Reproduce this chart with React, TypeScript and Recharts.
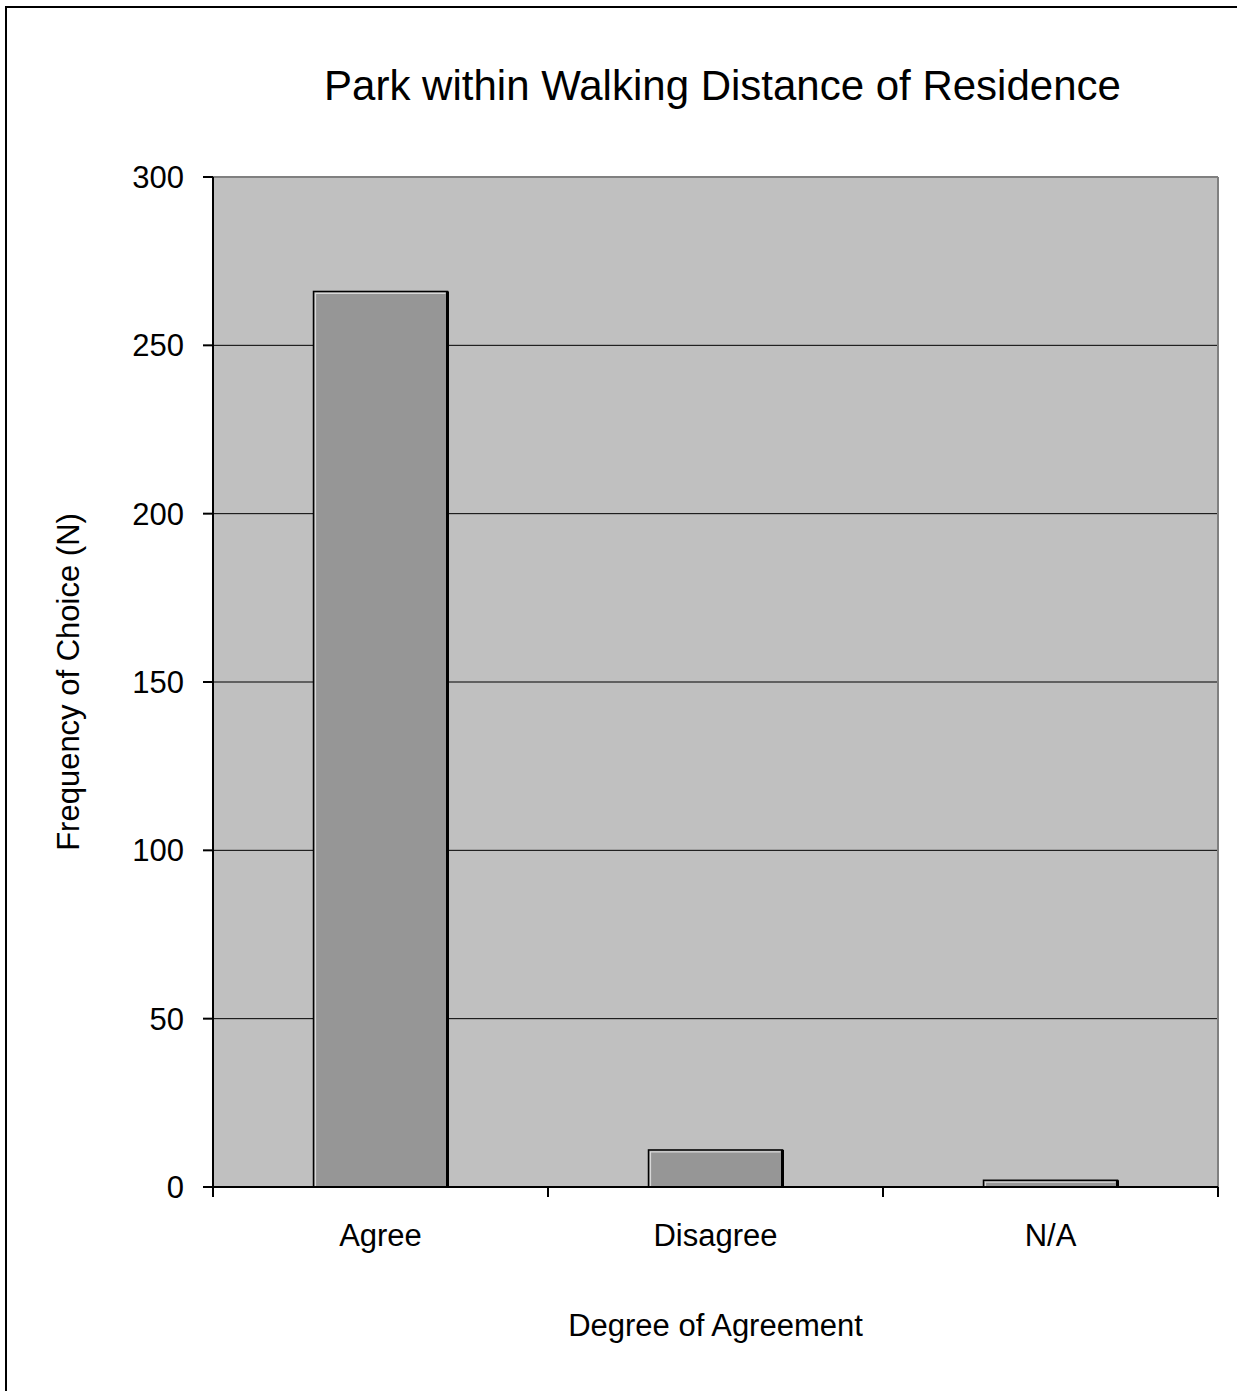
import React from 'react';
import { BarChart, Bar, XAxis, YAxis, CartesianGrid, ReferenceLine } from 'recharts';

const categories = ['Agree', 'Disagree', 'N/A'];
const frequencies = [266, 11, 2];
const yTicks = [0, 50, 100, 150, 200, 250, 300];
const titleText = 'Park within Walking Distance of Residence';
const yTitle = 'Frequency of Choice (N)';
const xTitle = 'Degree of Agreement';

const data = categories.map((c, i) => ({ category: c, value: frequencies[i] }));

const FONT = '"Liberation Sans", Arial, sans-serif';
const X_TICK_MARGIN = 37;
const X_TICK_LEN = 10;

const BarShape = (props: any) => {
  const { x, y, width, height } = props;
  if (width == null || height == null) return null;
  return (
    <g>
      <rect x={x} y={y} width={width} height={height} fill="#969696" stroke="#000" strokeWidth={1.5} />
      <polyline
        points={`${x + 2},${y + height} ${x + 2},${y + 2} ${x + width - 2},${y + 2}`}
        stroke="#D8D8D8"
        strokeWidth={1.2}
        fill="none"
      />
      <line x1={x + width} y1={y} x2={x + width} y2={y + height} stroke="#000" strokeWidth={3} />
    </g>
  );
};

const CatTick = (props: any) => {
  const { x, y, payload, index, visibleTicksCount } = props;
  const half = payload && payload.offset ? payload.offset : 0;
  const axisY = y - X_TICK_MARGIN;
  const isLast = index === (visibleTicksCount ?? categories.length) - 1;
  return (
    <g>
      <line x1={x - half} y1={axisY} x2={x - half} y2={axisY + X_TICK_LEN} stroke="#000" strokeWidth={2} />
      {isLast && (
        <line x1={x + half} y1={axisY} x2={x + half} y2={axisY + X_TICK_LEN} stroke="#000" strokeWidth={2} />
      )}
      <text x={x} y={y} dy="0.71em" textAnchor="middle" fontSize={31} fontFamily={FONT} fill="#000">
        {payload.value}
      </text>
    </g>
  );
};

const YTitle = (props: any) => {
  const vb = props.viewBox || { x: 0, y: 177, width: 213, height: 1010 };
  const cx = vb.x + 79;
  const cy = vb.y + vb.height / 2;
  return (
    <text
      x={cx}
      y={cy}
      transform={`rotate(-90 ${cx} ${cy})`}
      textAnchor="middle"
      fontSize={31}
      fontFamily={FONT}
      fill="#000"
    >
      {yTitle}
    </text>
  );
};

const XTitle = (props: any) => {
  const vb = props.viewBox || { x: 213, y: 1187, width: 1005, height: 204 };
  return (
    <text x={vb.x + vb.width / 2} y={vb.y + 149} textAnchor="middle" fontSize={31} fontFamily={FONT} fill="#000">
      {xTitle}
    </text>
  );
};

export default function App() {
  return (
    <div style={{ position: 'absolute', left: 0, top: 0, width: 1237, height: 1391, background: '#fff', overflow: 'hidden' }}>
      <div
        style={{
          position: 'absolute',
          left: 5,
          top: 6,
          width: 1300,
          height: 1450,
          borderTop: '2px solid #000',
          borderLeft: '2px solid #000',
          boxSizing: 'border-box',
        }}
      />
      <div
        style={{
          position: 'absolute',
          left: 222,
          top: 65,
          width: 1001,
          textAlign: 'center',
          fontFamily: FONT,
          fontSize: 42,
          lineHeight: '42px',
          color: '#000',
          whiteSpace: 'nowrap',
        }}
      >
        {titleText}
      </div>
      <div style={{ position: 'absolute', left: 0, top: 0 }}>
        <BarChart
          width={1237}
          height={1391}
          data={data}
          margin={{ top: 177, right: 19, bottom: 0, left: 0 }}
          barCategoryGap="30%"
        >
          <CartesianGrid vertical={false} stroke="#000" strokeWidth={1} fill="#C0C0C0" />
          <XAxis
            dataKey="category"
            type="category"
            axisLine={{ stroke: '#000', strokeWidth: 2 }}
            tickLine={false}
            tickSize={0}
            tickMargin={X_TICK_MARGIN}
            height={204}
            tick={CatTick}
            label={{ content: XTitle }}
          />
          <YAxis
            type="number"
            domain={[0, 300]}
            ticks={yTicks}
            width={213}
            axisLine={{ stroke: '#000', strokeWidth: 2 }}
            tickLine={{ stroke: '#000', strokeWidth: 2 }}
            tickSize={10}
            tickMargin={19}
            tick={{ fill: '#000', fontSize: 31, fontFamily: FONT }}
            label={{ content: YTitle }}
          />
          <ReferenceLine y={300} stroke="#808080" strokeWidth={2} />
          <ReferenceLine x="N/A" position="end" stroke="#808080" strokeWidth={2} />
          <Bar dataKey="value" isAnimationActive={false} shape={BarShape} />
        </BarChart>
      </div>
    </div>
  );
}
